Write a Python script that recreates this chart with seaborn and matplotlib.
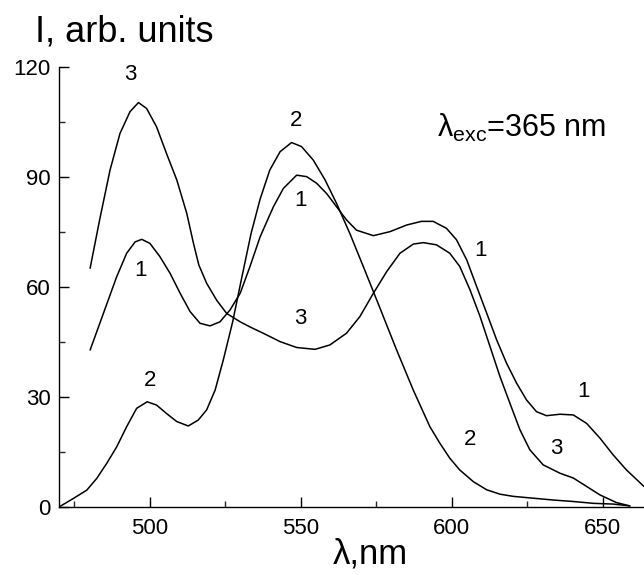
import matplotlib
matplotlib.use("Agg")
import matplotlib.pyplot as plt
import seaborn as sns
import pandas as pd
from matplotlib.ticker import MultipleLocator

# ---- data ----
x1 = [480.3, 484.7, 489.1, 492.4, 495.2, 497.4, 500.1, 503.4, 506.8, 510.1, 513.4,
      516.7, 520.0, 523.3, 526.6, 530.0, 533.2, 536.6, 541.0, 544.3, 548.7, 552.0,
      555.3, 558.6, 561.9, 565.2, 568.5, 574.1, 579.6, 585.1, 590.0, 593.9, 598.3,
      601.6, 605.0, 608.3, 611.6, 614.9, 618.2, 621.5, 624.8, 628.1, 631.4, 635.9,
      640.3, 644.7, 649.1, 653.5, 657.9, 663.7]
y1 = [42.8, 52.8, 62.8, 69.2, 72.3, 73.0, 71.9, 68.3, 63.7, 58.3, 53.3,
      50.1, 49.4, 50.5, 53.7, 58.3, 65.5, 73.7, 81.9, 86.9, 90.5, 90.1,
      88.3, 85.5, 81.9, 78.3, 75.5, 74.0, 75.1, 76.9, 77.9, 77.9, 76.0,
      72.9, 67.4, 60.1, 52.9, 45.6, 39.2, 33.8, 29.2, 26.0, 24.9, 25.3,
      25.1, 22.8, 18.8, 14.2, 10.1, 5.6]

x2 = [470.0, 474.7, 479.2, 482.5, 485.8, 489.1, 492.4, 495.7, 499.2, 502.3, 505.6,
      509.0, 512.8, 516.1, 518.9, 521.7, 524.4, 527.5, 530.5, 533.6, 536.6, 539.8,
      543.2, 547.0, 550.3, 554.2, 558.1, 561.9, 566.3, 570.8, 576.3, 581.8, 587.3,
      592.8, 596.1, 599.4, 602.7, 607.2, 611.6, 616.0, 620.4, 627.0, 633.7, 640.3,
      646.9, 653.5, 659.0]
y2 = [0.0, 2.3, 4.6, 7.8, 11.9, 16.4, 21.9, 26.9, 28.7, 27.8, 25.5,
      23.3, 22.1, 23.7, 26.5, 31.9, 40.1, 50.5, 62.5, 74.6, 84.0, 91.9,
      96.9, 99.4, 98.3, 94.6, 89.2, 82.8, 74.6, 65.5, 54.2, 42.8, 31.9,
      21.9, 17.4, 13.3, 10.1, 6.9, 4.7, 3.5, 2.9, 2.4, 1.9, 1.5,
      1.0, 0.8, 0.3]

x3 = [480.3, 483.5, 486.9, 490.2, 493.5, 496.3, 499.0, 502.3, 505.6, 509.0, 512.3,
      514.5, 516.3, 518.9, 522.2, 525.5, 530.0, 533.5, 537.6, 543.2, 548.7, 554.8,
      559.7, 565.2, 569.6, 574.1, 578.5, 582.9, 587.3, 590.6, 595.0, 599.4, 602.7,
      606.1, 609.4, 612.7, 616.0, 619.3, 622.6, 625.9, 630.3, 635.9, 640.3, 644.7,
      649.1, 654.6, 659.0]
y3 = [65.1, 78.5, 91.9, 101.9, 107.8, 110.3, 108.7, 103.7, 96.4, 89.2, 80.1,
      72.0, 66.0, 61.0, 56.4, 52.8, 50.5, 49.0, 47.4, 45.1, 43.5, 43.0,
      44.2, 47.4, 51.9, 58.3, 64.2, 69.2, 71.7, 72.1, 71.5, 69.2, 65.6,
      59.2, 52.0, 43.8, 35.6, 28.3, 21.1, 15.6, 11.5, 9.2, 7.9, 5.6,
      3.3, 1.2, 0.3]

curve_labels = ["1", "1", "1", "1", "2", "2", "2", "3", "3", "3"]
label_x = [497.0, 549.8, 609.4, 643.8, 500.0, 548.5, 606.0, 493.5, 549.8, 634.6]
label_y = [64.6, 83.7, 70.0, 31.4, 34.6, 105.5, 18.3, 118.0, 51.5, 16.0]

xticks = [500, 550, 600, 650]
yticks = [0, 30, 60, 90, 120]

# ---- styling ----
sns.set_theme(style="ticks")
plt.rcParams["font.family"] = ["Liberation Sans", "DejaVu Sans"]
plt.rcParams["mathtext.fontset"] = "custom"
plt.rcParams["mathtext.rm"] = "Liberation Sans"
plt.rcParams["mathtext.it"] = "Liberation Sans:italic"

fig = plt.figure(figsize=(6.44, 5.75), dpi=100)
ax = fig.add_axes([59 / 644, 68 / 575, 1 - 59 / 644, 440 / 575])

for xs, ys in [(x1, y1), (x2, y2), (x3, y3)]:
    df = pd.DataFrame({"x": xs, "y": ys})
    sns.lineplot(data=df, x="x", y="y", ax=ax, color="black", lw=1.1,
                 estimator=None, sort=False)

for t, lx, ly in zip(curve_labels, label_x, label_y):
    ax.text(lx, ly, t, fontsize=16, ha="center", va="center", color="black")

ax.text(595.0, 101, r"$\mathrm{λ}_{\mathrm{exc}}$=365 nm", fontsize=22,
        ha="left", va="baseline", color="black")

ax.set_xlim(470, 663.7)
ax.set_ylim(0, 120)
ax.set_xticks(xticks)
ax.set_yticks(yticks)
ax.xaxis.set_minor_locator(MultipleLocator(25))
ax.yaxis.set_minor_locator(MultipleLocator(15))
ax.tick_params(which="major", direction="in", length=7, width=1.0,
               labelsize=16, colors="black")
ax.tick_params(which="minor", direction="in", length=4, width=1.0)
ax.tick_params(axis="x", pad=8)
ax.tick_params(axis="y", pad=6)
ax.set_xlabel("")
ax.set_ylabel("")
for s in ["top", "right"]:
    ax.spines[s].set_visible(False)
for s in ["left", "bottom"]:
    ax.spines[s].set_linewidth(1.0)
    ax.spines[s].set_color("black")
ax.patch.set_alpha(0)

fig.text(35 / 644, 1 - 42 / 575, "I, arb. units", fontsize=26,
         ha="left", va="baseline", color="black")
fig.text(333 / 644, 1 - 564 / 575, "λ,nm", fontsize=25,
         ha="left", va="baseline", color="black")

fig.savefig("out.png", dpi=100)
